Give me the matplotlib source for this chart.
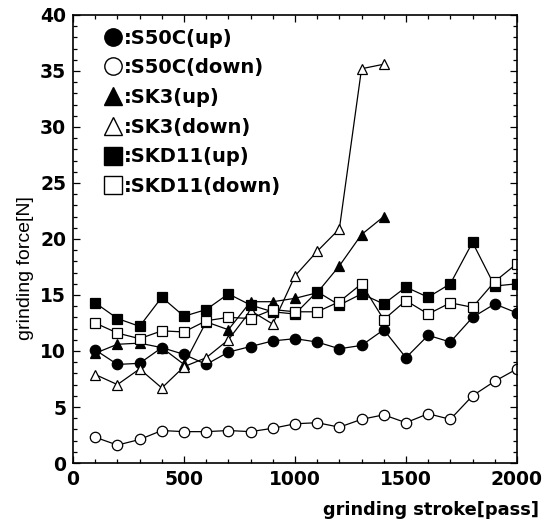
import matplotlib
matplotlib.use("Agg")
import matplotlib.pyplot as plt
from matplotlib.lines import Line2D
from matplotlib.ticker import MultipleLocator

plt.rcParams["font.family"] = ["Liberation Sans", "DejaVu Sans"]

# grinding stroke [pass]
stroke = [100, 200, 300, 400, 500, 600, 700, 800, 900, 1000,
          1100, 1200, 1300, 1400, 1500, 1600, 1700, 1800, 1900, 2000]
stroke_sk3 = stroke[:14]

# grinding force [N]
s50c_up = [10.1, 8.8, 8.9, 10.3, 9.7, 8.8, 9.9, 10.4, 10.9, 11.1,
           10.8, 10.2, 10.5, 11.9, 9.4, 11.4, 10.8, 13.0, 14.2, 13.4]
s50c_down = [2.3, 1.6, 2.1, 2.9, 2.8, 2.8, 2.9, 2.8, 3.1, 3.5,
             3.6, 3.2, 3.9, 4.3, 3.6, 4.4, 3.9, 6.0, 7.3, 8.4]
sk3_up = [9.8, 10.6, 10.7, 10.3, 8.8, 12.6, 11.9, 14.4, 14.4, 14.7,
          15.2, 17.6, 20.4, 22.0]
sk3_down = [7.9, 7.0, 8.4, 6.7, 8.6, 9.4, 11.0, 13.6, 12.4, 16.7,
            18.9, 20.9, 35.2, 35.6]
skd11_up = [14.3, 12.9, 12.2, 14.8, 13.1, 13.7, 15.1, 14.1, 13.5, 13.3,
            15.3, 14.1, 15.1, 14.2, 15.7, 14.8, 16.0, 19.7, 15.8, 16.0]
skd11_down = [12.5, 11.6, 11.1, 11.8, 11.7, 12.7, 13.0, 12.9, 13.7, 13.5,
              13.5, 14.4, 16.0, 12.8, 14.5, 13.3, 14.3, 13.9, 16.2, 17.8]

series = [
    (":S50C(up)", stroke, s50c_up, "o", "black"),
    (":S50C(down)", stroke, s50c_down, "o", "white"),
    (":SK3(up)", stroke_sk3, sk3_up, "^", "black"),
    (":SK3(down)", stroke_sk3, sk3_down, "^", "white"),
    (":SKD11(up)", stroke, skd11_up, "s", "black"),
    (":SKD11(down)", stroke, skd11_down, "s", "white"),
]

fig = plt.figure(figsize=(5.47, 5.21), dpi=100)
ax = fig.add_axes([0.1335, 0.1113, 0.8115, 0.86])

for label, xs, ys, m, fc in series:
    ax.plot(xs, ys, color="black", linewidth=0.9, marker=m, markersize=7.5,
            markerfacecolor=fc, markeredgecolor="black", markeredgewidth=0.9)

ax.set_xlim(0, 2000)
ax.set_ylim(0, 40)
ax.xaxis.set_major_locator(MultipleLocator(500))
ax.xaxis.set_minor_locator(MultipleLocator(100))
ax.yaxis.set_major_locator(MultipleLocator(5))
ax.yaxis.set_minor_locator(MultipleLocator(1))
ax.tick_params(which="both", direction="in", top=True, right=True, width=0.9)
ax.tick_params(which="major", length=5, pad=5)
ax.tick_params(which="minor", length=3)
for lab in ax.get_xticklabels() + ax.get_yticklabels():
    lab.set_fontfamily("DejaVu Sans")
    lab.set_fontweight("bold")
    lab.set_fontsize(13.5)
for sp in ax.spines.values():
    sp.set_linewidth(1.2)

handles = [Line2D([], [], linestyle="none", marker=m, markersize=12.5,
                  markerfacecolor=fc, markeredgecolor="black", markeredgewidth=1.0)
           for _, _, _, m, fc in series]
ax.legend(handles, [s[0] for s in series], loc="upper left",
          bbox_to_anchor=(0.052, 0.987), frameon=False, handlelength=0.9,
          handletextpad=0.15, labelspacing=0.55, borderaxespad=0.0,
          prop={"family": "DejaVu Sans", "size": 14, "weight": "bold"})

fig.text(0.046, 0.486, "grinding force[N]", rotation=90, ha="center", va="center",
         fontsize=14)
fig.text(0.985, 0.022, "grinding stroke[pass]", ha="right", va="center",
         fontsize=12.8, fontweight="bold", family="DejaVu Sans")

fig.savefig("out.png", dpi=100)
